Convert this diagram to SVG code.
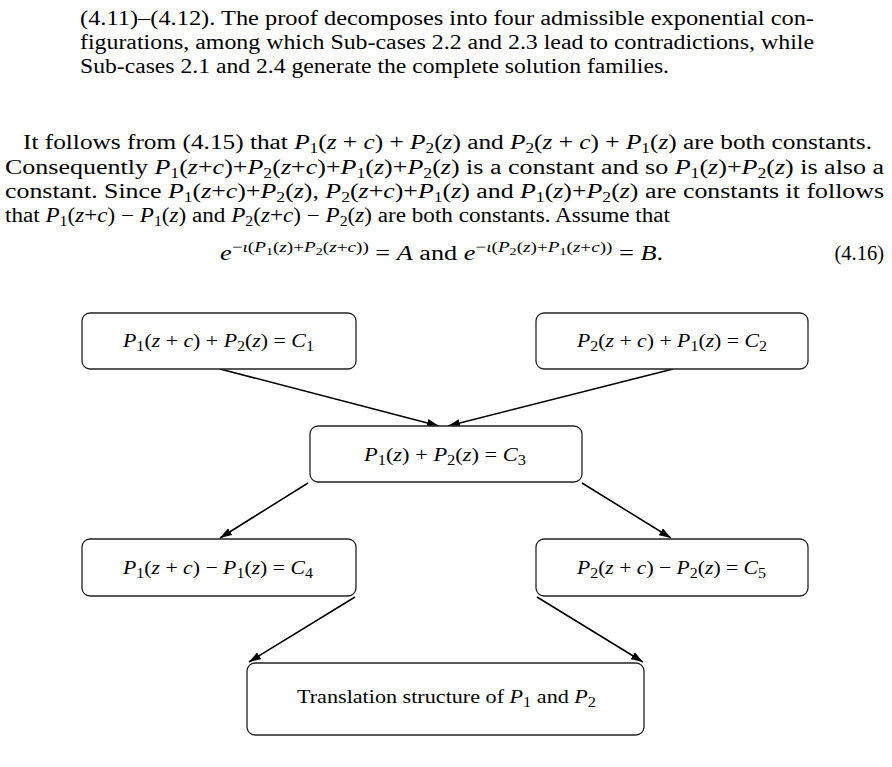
<svg xmlns="http://www.w3.org/2000/svg" width="892" height="767" viewBox="0 0 892 767">
<style>
.t{font-family:"Liberation Serif","DejaVu Serif",serif;font-size:20.5px;fill:#000}
.b{font-family:"Liberation Serif","DejaVu Serif",serif;font-size:19px;fill:#000}
.i{font-style:italic}
.s{font-size:14px;baseline-shift:-4px}
.sup{font-size:15px;baseline-shift:8px}
.ss{font-size:11px;baseline-shift:-3px}
.box{fill:#fff;stroke:#222;stroke-width:1.3}
.c{stroke:#000;stroke-width:1.5;fill:none;marker-end:url(#ah)}
</style>
<defs>
<marker id="ah" viewBox="0 0 12 8" refX="12" refY="4" markerWidth="12" markerHeight="8" markerUnits="userSpaceOnUse" orient="auto">
<path d="M0,0 L12,4 L0,8 z" fill="#000"/>
</marker>
</defs>
<rect width="892" height="767" fill="#fff"/>
<g id="text">
<text class="t" x="80" y="25" textLength="734" lengthAdjust="spacingAndGlyphs">(4.11)–(4.12).  The proof decomposes into four admissible exponential con-</text>
<text class="t" x="80" y="49" textLength="734" lengthAdjust="spacingAndGlyphs">figurations, among which Sub-cases 2.2 and 2.3 lead to contradictions, while</text>
<text class="t" x="80" y="73" textLength="589" lengthAdjust="spacingAndGlyphs">Sub-cases 2.1 and 2.4 generate the complete solution families.</text>
<text class="t" x="23" y="149" textLength="849" lengthAdjust="spacingAndGlyphs">It follows from (4.15) that <tspan class="i">P</tspan><tspan class="s">1</tspan>(<tspan class="i">z</tspan> + <tspan class="i">c</tspan>) + <tspan class="i">P</tspan><tspan class="s">2</tspan>(<tspan class="i">z</tspan>) and <tspan class="i">P</tspan><tspan class="s">2</tspan>(<tspan class="i">z</tspan> + <tspan class="i">c</tspan>) + <tspan class="i">P</tspan><tspan class="s">1</tspan>(<tspan class="i">z</tspan>) are both constants.</text>
<text class="t" x="5" y="174" textLength="879" lengthAdjust="spacingAndGlyphs">Consequently <tspan class="i">P</tspan><tspan class="s">1</tspan>(<tspan class="i">z</tspan>+<tspan class="i">c</tspan>)+<tspan class="i">P</tspan><tspan class="s">2</tspan>(<tspan class="i">z</tspan>+<tspan class="i">c</tspan>)+<tspan class="i">P</tspan><tspan class="s">1</tspan>(<tspan class="i">z</tspan>)+<tspan class="i">P</tspan><tspan class="s">2</tspan>(<tspan class="i">z</tspan>) is a constant and so <tspan class="i">P</tspan><tspan class="s">1</tspan>(<tspan class="i">z</tspan>)+<tspan class="i">P</tspan><tspan class="s">2</tspan>(<tspan class="i">z</tspan>) is also a</text>
<text class="t" x="5" y="198" textLength="879" lengthAdjust="spacingAndGlyphs">constant. Since <tspan class="i">P</tspan><tspan class="s">1</tspan>(<tspan class="i">z</tspan>+<tspan class="i">c</tspan>)+<tspan class="i">P</tspan><tspan class="s">2</tspan>(<tspan class="i">z</tspan>), <tspan class="i">P</tspan><tspan class="s">2</tspan>(<tspan class="i">z</tspan>+<tspan class="i">c</tspan>)+<tspan class="i">P</tspan><tspan class="s">1</tspan>(<tspan class="i">z</tspan>) and <tspan class="i">P</tspan><tspan class="s">1</tspan>(<tspan class="i">z</tspan>)+<tspan class="i">P</tspan><tspan class="s">2</tspan>(<tspan class="i">z</tspan>) are constants it follows</text>
<text class="t" x="5" y="222" textLength="665" lengthAdjust="spacingAndGlyphs">that <tspan class="i">P</tspan><tspan class="s">1</tspan>(<tspan class="i">z</tspan>+<tspan class="i">c</tspan>) − <tspan class="i">P</tspan><tspan class="s">1</tspan>(<tspan class="i">z</tspan>) and <tspan class="i">P</tspan><tspan class="s">2</tspan>(<tspan class="i">z</tspan>+<tspan class="i">c</tspan>) − <tspan class="i">P</tspan><tspan class="s">2</tspan>(<tspan class="i">z</tspan>) are both constants. Assume that</text>
<text class="t" x="220" y="260" textLength="443" lengthAdjust="spacingAndGlyphs"><tspan class="i">e</tspan><tspan class="sup">−<tspan class="i">ι</tspan>(<tspan class="i">P</tspan><tspan class="ss">1</tspan>(<tspan class="i">z</tspan>)+<tspan class="i">P</tspan><tspan class="ss">2</tspan>(<tspan class="i">z</tspan>+<tspan class="i">c</tspan>))</tspan> = <tspan class="i">A</tspan>  and  <tspan class="i">e</tspan><tspan class="sup">−<tspan class="i">ι</tspan>(<tspan class="i">P</tspan><tspan class="ss">2</tspan>(<tspan class="i">z</tspan>)+<tspan class="i">P</tspan><tspan class="ss">1</tspan>(<tspan class="i">z</tspan>+<tspan class="i">c</tspan>))</tspan> = <tspan class="i">B</tspan>.</text>
<text class="t" x="884" y="260" text-anchor="end">(4.16)</text>
</g>
<g id="connectors">
<line class="c" x1="220" y1="369" x2="439" y2="426"/>
<line class="c" x1="673" y1="369" x2="448" y2="426"/>
<line class="c" x1="308" y1="483" x2="220" y2="538"/>
<line class="c" x1="582" y1="483" x2="671" y2="538"/>
<line class="c" x1="355" y1="597" x2="249" y2="662"/>
<line class="c" x1="537" y1="597" x2="643" y2="662"/>
</g>
<g id="n1">
<rect class="box" x="82" y="313" width="274" height="56" rx="8"/>
<text class="b" x="123" y="347" textLength="191" lengthAdjust="spacingAndGlyphs"><tspan class="i">P</tspan><tspan class="s">1</tspan>(<tspan class="i">z</tspan> + <tspan class="i">c</tspan>) + <tspan class="i">P</tspan><tspan class="s">2</tspan>(<tspan class="i">z</tspan>) = <tspan class="i">C</tspan><tspan class="s">1</tspan></text>
</g>
<g id="n2">
<rect class="box" x="536" y="313" width="272" height="56" rx="8"/>
<text class="b" x="577" y="347" textLength="190" lengthAdjust="spacingAndGlyphs"><tspan class="i">P</tspan><tspan class="s">2</tspan>(<tspan class="i">z</tspan> + <tspan class="i">c</tspan>) + <tspan class="i">P</tspan><tspan class="s">1</tspan>(<tspan class="i">z</tspan>) = <tspan class="i">C</tspan><tspan class="s">2</tspan></text>
</g>
<g id="n3">
<rect class="box" x="310" y="426" width="272" height="56" rx="8"/>
<text class="b" x="364" y="461" textLength="162" lengthAdjust="spacingAndGlyphs"><tspan class="i">P</tspan><tspan class="s">1</tspan>(<tspan class="i">z</tspan>) + <tspan class="i">P</tspan><tspan class="s">2</tspan>(<tspan class="i">z</tspan>) = <tspan class="i">C</tspan><tspan class="s">3</tspan></text>
</g>
<g id="n4">
<rect class="box" x="82" y="539" width="274" height="57" rx="8"/>
<text class="b" x="123" y="574" textLength="190" lengthAdjust="spacingAndGlyphs"><tspan class="i">P</tspan><tspan class="s">1</tspan>(<tspan class="i">z</tspan> + <tspan class="i">c</tspan>) − <tspan class="i">P</tspan><tspan class="s">1</tspan>(<tspan class="i">z</tspan>) = <tspan class="i">C</tspan><tspan class="s">4</tspan></text>
</g>
<g id="n5">
<rect class="box" x="536" y="539" width="272" height="57" rx="8"/>
<text class="b" x="577" y="574" textLength="189" lengthAdjust="spacingAndGlyphs"><tspan class="i">P</tspan><tspan class="s">2</tspan>(<tspan class="i">z</tspan> + <tspan class="i">c</tspan>) − <tspan class="i">P</tspan><tspan class="s">2</tspan>(<tspan class="i">z</tspan>) = <tspan class="i">C</tspan><tspan class="s">5</tspan></text>
</g>
<g id="n6">
<rect class="box" x="247" y="663" width="397" height="72" rx="8"/>
<text class="b" x="297" y="703" textLength="299" lengthAdjust="spacingAndGlyphs">Translation structure of <tspan class="i">P</tspan><tspan class="s">1</tspan> and <tspan class="i">P</tspan><tspan class="s">2</tspan></text>
</g>
</svg>
